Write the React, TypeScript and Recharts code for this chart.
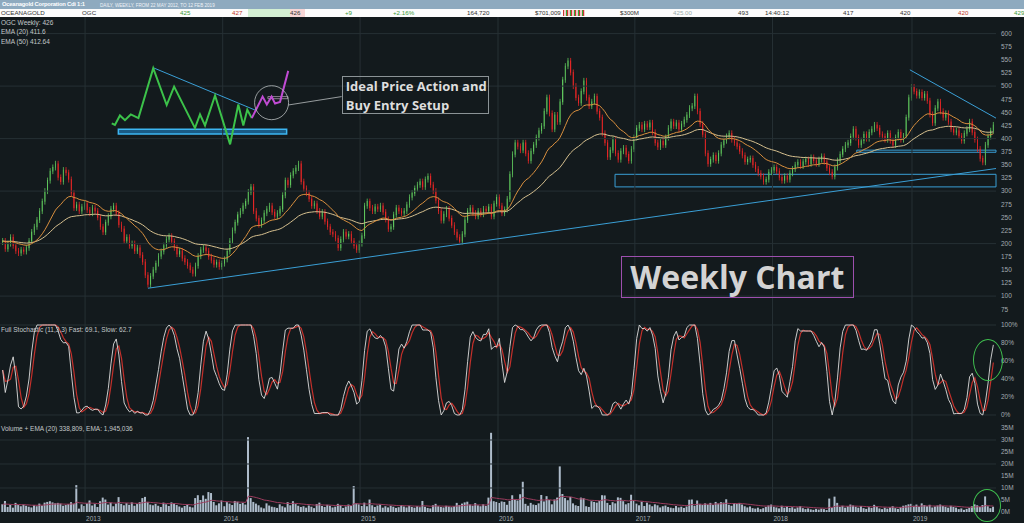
import React from 'react';
import { ComposedChart, Bar, Line, XAxis, YAxis, ReferenceLine, ReferenceArea, ReferenceDot } from 'recharts';

// weekly closes, late May 2012 -> 2019 (cents)
const closes = [
  205, 190, 200, 212, 196, 186, 182, 188, 185, 192, 205, 222, 232, 245, 262, 280, 300, 320, 338,
  345, 352, 326, 318, 340, 335, 322, 296, 268, 274, 262, 270, 276, 264, 258, 268, 262, 250, 232,
  222, 240, 252, 266, 272, 258, 236, 228, 205, 212, 196, 200, 186, 192, 178, 165, 140, 122, 138,
  150, 162, 176, 185, 196, 208, 214, 204, 192, 180, 186, 172, 165, 158, 150, 143, 158, 176, 188,
  192, 186, 175, 168, 160, 164, 156, 162, 170, 185, 205, 225, 240, 255, 262, 272, 280, 298, 308,
  262, 248, 236, 244, 258, 266, 272, 260, 252, 258, 266, 292, 320, 312, 330, 338, 344, 352, 318,
  305, 296, 285, 272, 276, 262, 252, 260, 242, 232, 222, 218, 210, 192, 208, 222, 214, 218, 205,
  196, 188, 200, 215, 272, 280, 268, 262, 270, 266, 272, 260, 246, 228, 232, 255, 268, 262, 258,
  262, 274, 288, 296, 305, 312, 318, 308, 322, 328, 312, 300, 282, 262, 244, 256, 266, 248, 235,
  222, 212, 204, 218, 245, 262, 268, 258, 252, 262, 256, 266, 262, 270, 252, 276, 288, 272, 258,
  265, 285, 332, 370, 392, 385, 378, 392, 372, 358, 376, 388, 402, 415, 424, 452, 478, 448, 418,
  445, 432, 470, 512, 538, 548, 526, 500, 478, 468, 490, 510, 478, 462, 470, 480, 452, 440, 410,
  392, 365, 378, 398, 372, 360, 376, 382, 370, 358, 380, 402, 420, 426, 418, 428, 422, 430, 412,
  392, 384, 395, 388, 402, 420, 432, 424, 430, 418, 428, 436, 445, 458, 462, 480, 452, 428, 408,
  372, 352, 360, 368, 358, 372, 388, 396, 404, 410, 398, 392, 385, 376, 368, 356, 360, 362, 350,
  342, 334, 328, 318, 322, 336, 340, 345, 338, 326, 320, 328, 322, 334, 342, 350, 355, 348, 356,
  360, 352, 364, 358, 352, 360, 366, 356, 344, 336, 328, 345, 358, 370, 380, 388, 392, 404, 418,
  402, 388, 396, 408, 400, 412, 418, 426, 420, 408, 404, 398, 410, 396, 388, 402, 412, 398, 405,
  440, 478, 498, 490, 482, 488, 478, 485, 472, 446, 430, 458, 470, 452, 440, 448, 432, 418, 412,
  415, 405, 396, 410, 418, 432, 412, 398, 380, 362, 355, 388, 404, 415, 426,
];

// weekly volume (millions)
const volumes = [
  3.2, 4.6, 2.1, 3.0, 1.8, 3.8, 2.9, 2.4, 3.1, 2.6, 2.2, 1.9, 2.8, 2.4, 3.5, 2.7, 3.9, 4.2, 4.5,
  4.0, 3.6, 3.8, 3.5, 2.6, 2.9, 3.3, 4.1, 3.4, 11.2, 1.4, 3.2, 2.5, 3.6, 4.8, 2.7, 3.3, 2.1, 4.5,
  6.0, 5.2, 3.1, 3.9, 2.4, 3.5, 6.2, 3.4, 2.8, 3.7, 3.0, 4.0, 2.6, 3.3, 4.1, 5.8, 6.3, 4.2, 3.1,
  2.8, 3.4, 2.6, 2.1, 3.9, 3.2, 2.5, 4.0, 3.6, 2.9, 2.3, 1.8, 2.5, 3.1, 2.2, 1.9, 5.8, 7.0, 5.0,
  6.9, 5.5, 8.3, 7.9, 4.2, 2.8, 3.6, 4.8, 2.4, 4.1, 3.5, 2.9, 4.6, 4.3, 3.4, 3.8, 3.1, 31.2, 5.8,
  4.2, 3.5, 2.8, 1.9, 1.5, 3.6, 2.7, 2.2, 2.0, 1.7, 3.2, 2.4, 1.9, 4.1, 2.8, 4.5, 3.3, 2.6, 2.1,
  2.4, 1.8, 2.7, 2.2, 1.6, 3.3, 3.9, 2.5, 2.1, 3.0, 2.6, 1.9, 2.2, 3.4, 2.8, 1.7, 2.3, 3.1, 2.5,
  10.8, 3.6, 3.2, 2.5, 3.9, 2.4, 5.2, 2.8, 2.1, 2.7, 3.1, 1.8, 2.4, 1.9, 2.6, 2.2, 1.7, 2.0, 2.9,
  2.3, 1.9, 2.6, 2.1, 1.8, 2.4, 2.0, 4.6, 2.2, 1.7, 1.5, 2.8, 3.4, 2.4, 2.1, 1.9, 2.6, 2.3, 2.0,
  2.4, 3.8, 2.9, 3.5, 4.0, 4.3, 3.1, 2.6, 3.7, 2.8, 2.4, 3.2, 2.5, 6.0, 33.0, 4.5, 4.2, 3.8, 4.4,
  4.2, 3.0, 4.6, 7.0, 5.2, 4.8, 7.4, 12.6, 3.4, 2.6, 3.8, 3.1, 2.9, 3.6, 7.1, 4.4, 6.6, 5.0, 3.2,
  5.2, 6.0, 19.0, 7.5, 5.8, 4.9, 6.3, 3.6, 2.8, 2.5, 6.0, 5.8, 2.4, 2.1, 4.5, 4.2, 3.9, 4.6, 7.0,
  6.9, 3.8, 2.9, 4.1, 3.6, 6.1, 5.9, 4.5, 3.2, 3.7, 7.2, 4.8, 3.5, 2.8, 4.3, 2.5, 3.9, 3.1, 2.4,
  3.2, 2.8, 1.9, 2.4, 2.7, 2.1, 1.8, 1.6, 2.5, 1.9, 2.2, 1.7, 2.3, 5.1, 5.2, 2.6, 4.8, 3.4, 2.9,
  3.6, 3.1, 3.8, 2.9, 4.2, 3.5, 4.1, 3.9, 5.3, 3.0, 2.6, 3.7, 3.4, 3.8, 3.1, 2.4, 1.9, 2.3, 1.6,
  1.4, 1.8, 1.2, 1.6, 2.1, 2.7, 3.1, 2.2, 1.9, 1.5, 2.6, 1.8, 2.3, 1.7, 2.0, 1.4, 1.9, 2.4, 1.6,
  1.2, 1.5, 1.1, 0.9, 1.3, 1.0, 1.4, 1.2, 0.8, 5.6, 1.9, 6.4, 3.8, 2.1, 2.6, 1.8, 2.4, 3.1, 2.7,
  2.2, 1.8, 2.5, 1.6, 1.3, 2.0, 1.7, 3.0, 2.2, 1.5, 1.2, 1.8, 1.4, 1.9, 2.4, 1.6, 1.3, 2.1, 2.6,
  2.8, 3.2, 3.4, 2.6, 3.1, 2.2, 3.6, 2.9, 2.4, 3.0, 1.9, 2.3, 2.7, 3.1, 2.5, 2.2, 1.8, 2.6, 2.1,
  1.8, 1.2, 1.5, 0.9, 1.3, 1.7, 2.4, 3.2, 2.8, 2.1, 2.9, 6.5, 2.4, 1.6, 2.2,
];

// where each new year starts (in weeks from the first bar)
const yearIdx = [31.2, 83.3, 135.3, 187.5, 239.3, 291.4, 344.2];
const yearLabels = ['2013', '2014', '2015', '2016', '2017', '2018', '2019'];

const priceTicks = [600, 575, 550, 525, 500, 475, 450, 425, 400, 375, 350, 325, 300, 275, 250, 225, 200, 175, 150, 125, 100, 75];
const priceGrid = [100, 200, 300, 400, 500, 600];
const stochTicks = [0, 20, 40, 60, 80, 100];
const stochGrid = [0, 100];
const volTicks = [0, 5, 10, 15, 20, 25, 30, 35];
const volGrid = [10, 20, 30];

// drawn-in annotations (week index, price)
const trendUp = [{ x: 55, y: 115 }, { x: 376, y: 343 }];
const trendDown = [{ x: 343.4, y: 531 }, { x: 376, y: 439 }];
const sketchTrend = [{ x: 57, y: 535 }, { x: 95.5, y: 454.5 }];
const sketchConnector = [{ x: 108.1, y: 464 }, { x: 128.3, y: 480 }];
const sketchPath = [
  { i: 41.3, p: 429 }, { i: 42.5, p: 426 }, { i: 44.4, p: 444 }, { i: 46.3, p: 435 }, { i: 48.5, p: 446 },
  { i: 51.4, p: 439 }, { i: 57.0, p: 534 }, { i: 62.1, p: 464 }, { i: 64.9, p: 499 }, { i: 72.8, p: 420 },
  { i: 74.7, p: 446 }, { i: 76.6, p: 425 }, { i: 80.4, p: 482 }, { i: 86.1, p: 389 }, { i: 89.2, p: 465 },
  { i: 91.1, p: 425 }, { i: 92.6, p: 455 }, { i: 94.3, p: 439 },
];
const sketchBreakout = [
  { i: 94.3, p: 439 }, { i: 98.4, p: 480 }, { i: 100.0, p: 465 }, { i: 101.8, p: 480 },
  { i: 103.1, p: 467 }, { i: 105.0, p: 470 }, { i: 108.1, p: 529 },
];

const N = closes.length;
const BG = '#131a1d';
const GRID = '#263034';
const TXT = '#a3acb1';
const LINE_BLUE = '#3a9fd6';
const FONT = 'Liberation Sans, Arial, sans-serif';

const ema = (vals: number[], n: number) => {
  const k = 2 / (n + 1);
  let e = vals[0];
  return vals.map((v) => (e = v * k + e * (1 - k)));
};
const sma = (vals: number[], n: number) =>
  vals.map((_, i) => {
    const w = vals.slice(Math.max(0, i - n + 1), i + 1);
    return w.reduce((a, b) => a + b, 0) / w.length;
  });

// full stochastic (11,3,3) on closes
const rawK = closes.map((c, i) => {
  const w = closes.slice(Math.max(0, i - 10), i + 1);
  const lo = Math.min(...w);
  const hi = Math.max(...w);
  return hi === lo ? 50 : ((c - lo) / (hi - lo)) * 100;
});
const fast = sma(rawK, 3);
const slow = sma(fast, 3);
const ema20 = ema(closes, 20);
const ema50 = ema(closes, 50);
const volEma = ema(volumes, 20);

const rows = closes.map((c, i) => {
  const o = i === 0 ? c : closes[i - 1];
  return {
    i,
    o,
    c,
    body: [Math.min(o, c), Math.max(o, c)],
    ema20: ema20[i],
    ema50: ema50[i],
    fast: fast[i],
    slow: slow[i],
    vol: volumes[i],
    volEma: volEma[i],
  };
});

const Candle = (props: any) => {
  const { x, width, payload } = props;
  let { y, height } = props;
  if (height < 0) {
    y += height;
    height = -height;
  }
  const up = payload.c >= payload.o;
  const color = up ? '#5ec45c' : '#e32626';
  const h = Math.max(1, height);
  const cx = x + width / 2;
  return (
    <g>
      <line x1={cx} x2={cx} y1={y - 3} y2={y + h + 3} stroke={color} strokeWidth={0.8} />
      <rect x={x} y={y} width={width} height={h} fill={up ? '#1d3a22' : color} stroke={color} strokeWidth={0.7} />
    </g>
  );
};

const tickStyle = { fill: TXT, fontSize: 6.5, fontFamily: FONT };

const yearLines = yearIdx.map((v) => <ReferenceLine key={'yl' + v} x={v} stroke={GRID} strokeWidth={1} />);

const label = (text: string, top: number, left = 1) => (
  <div
    style={{
      position: 'absolute', left, top, fontSize: 6.5, fontFamily: FONT, color: '#c3c8ca',
      lineHeight: '8px', whiteSpace: 'nowrap',
    }}
  >
    {text}
  </div>
);

const quoteCell = (text: string, left: number, color = '#333') => (
  <span style={{ position: 'absolute', left, top: 0, color }}>{text}</span>
);

export default function App() {
  return (
    <div style={{ position: 'absolute', left: 0, top: 0, width: 1024, height: 523, background: BG, overflow: 'hidden' }}>
      {/* title bar */}
      <div style={{ position: 'absolute', left: 0, top: 0, width: 1024, height: 9.3, background: '#8eaabf' }}>
        <span
          style={{
            position: 'absolute', left: 2, top: 0, fontSize: 5.8, fontWeight: 700, color: '#fff', fontFamily: FONT,
            lineHeight: '9px', letterSpacing: -0.2, whiteSpace: 'nowrap',
          }}
        >
          Oceanagold Corporation Cdi 1:1
        </span>
        <span style={{ position: 'absolute', left: 100, top: 0.5, fontSize: 4.6, color: '#eef3f7', fontFamily: FONT, lineHeight: '9px', whiteSpace: 'nowrap' }}>
          DAILY, WEEKLY, FROM 22 MAY 2012, TO 12 FEB 2019
        </span>
      </div>
      {/* quote row */}
      <div
        style={{
          position: 'absolute', left: 0, top: 9.3, width: 1024, height: 8, background: '#fcfcfc',
          fontSize: 6.2, fontFamily: FONT, lineHeight: '8px', whiteSpace: 'nowrap',
        }}
      >
        <div style={{ position: 'absolute', left: 248, top: 0, width: 42, height: 8, background: '#d3efd3' }} />
        <div style={{ position: 'absolute', left: 290, top: 0, width: 15, height: 8, background: '#f7d6d6' }} />
        <div style={{ position: 'absolute', left: 563, top: 1, width: 22, height: 6, background: 'repeating-linear-gradient(90deg,#c33 0 1px,#f4c9c9 1px 3px,#3a3 3px 4px)' }} />
        {quoteCell('OCEANAGOLD', 1)}
        {quoteCell('OGC', 82)}
        {quoteCell('425', 180, '#3a9a3a')}
        {quoteCell('427', 232, '#c0392b')}
        {quoteCell('426', 290)}
        {quoteCell('+9', 345, '#3a9a3a')}
        {quoteCell('+2.16%', 393, '#3a9a3a')}
        {quoteCell('164,720', 467)}
        {quoteCell('$701,009', 535)}
        {quoteCell('$300M', 620)}
        {quoteCell('425.00', 673, '#9aa')}
        {quoteCell('493', 738)}
        {quoteCell('14:40:12', 765)}
        {quoteCell('417', 843)}
        {quoteCell('420', 900)}
        {quoteCell('420', 958, '#c0392b')}
        {quoteCell('429', 1014, '#3a9a3a')}
      </div>

      {/* price pane */}
      <div style={{ position: 'absolute', left: 0, top: 17 }}>
        <ComposedChart width={1024} height={303} data={rows} margin={{ top: 0, right: 0, bottom: 0, left: 0 }}>
          <XAxis type="number" dataKey="i" domain={[-1, N]} hide allowDataOverflow />
          <YAxis
            orientation="right" width={28} domain={[54.48, 631.62]} ticks={priceTicks} interval={0}
            axisLine={false} tickLine={false} tickSize={0} tickMargin={5} tick={tickStyle} allowDataOverflow
          />
          {priceGrid.map((v) => <ReferenceLine key={'pg' + v} y={v} stroke={GRID} strokeWidth={1} />)}
          {yearLines}
          <Bar dataKey="body" barSize={2} shape={<Candle />} isAnimationActive={false} />
          <Line dataKey="ema50" stroke="#d6c08f" strokeWidth={1} dot={false} isAnimationActive={false} />
          <Line dataKey="ema20" stroke="#d88f3e" strokeWidth={1} dot={false} isAnimationActive={false} />
          <ReferenceLine segment={trendUp} stroke={LINE_BLUE} strokeWidth={1} />
          <ReferenceLine segment={trendDown} stroke={LINE_BLUE} strokeWidth={1} />
          <ReferenceArea x1={231.8} x2={376} y1={308} y2={332} fill="none" stroke={LINE_BLUE} strokeWidth={1} />
          <ReferenceArea x1={323.3} x2={376} y1={374} y2={378} fill="none" stroke={LINE_BLUE} strokeWidth={1} />
          {/* idealised setup sketch */}
          <ReferenceArea x1={43.8} x2={107.5} y1={409} y2={418} fill="#1a5b85" fillOpacity={1} stroke="#3db6f2" strokeWidth={1.5} />
          <ReferenceLine segment={sketchTrend} stroke={LINE_BLUE} strokeWidth={1} />
          <Line data={sketchPath} dataKey="p" stroke="#3cc24a" strokeWidth={2} dot={false} isAnimationActive={false} />
          <Line data={sketchBreakout} dataKey="p" stroke="#c04bd3" strokeWidth={2} dot={false} isAnimationActive={false} />
          <ReferenceArea x1={100.4} x2={108} y1={476} y2={480} fill="none" stroke="#a89aa8" strokeWidth={0.8} />
          <ReferenceDot x={101.8} y={468.4} r={17} fill="none" stroke="#b8bcbe" strokeWidth={0.8} />
          <ReferenceLine segment={sketchConnector} stroke="#b8bcbe" strokeWidth={0.8} />
        </ComposedChart>
      </div>

      {/* stochastic pane */}
      <div style={{ position: 'absolute', left: 0, top: 320 }}>
        <ComposedChart width={1024} height={100} data={rows} margin={{ top: 0, right: 0, bottom: 0, left: 0 }}>
          <XAxis type="number" dataKey="i" domain={[-1, N]} hide allowDataOverflow />
          <YAxis
            orientation="right" width={28} domain={[-5.56, 105.56]} ticks={stochTicks} interval={0}
            axisLine={false} tickLine={false} tickSize={0} tickMargin={5} tick={tickStyle}
            tickFormatter={(v: number) => `${v}%`} allowDataOverflow
          />
          {stochGrid.map((v) => <ReferenceLine key={'sg' + v} y={v} stroke={GRID} strokeWidth={1} />)}
          {yearLines}
          <Line dataKey="slow" stroke="#c3302b" strokeWidth={1.2} dot={false} isAnimationActive={false} />
          <Line dataKey="fast" stroke="#dcdcdc" strokeWidth={0.9} dot={false} isAnimationActive={false} />
        </ComposedChart>
      </div>

      {/* volume pane */}
      <div style={{ position: 'absolute', left: 0, top: 420 }}>
        <ComposedChart width={1024} height={103} data={rows} margin={{ top: 0, right: 0, bottom: 0, left: 0 }}>
          <XAxis
            type="number" dataKey="i" domain={[-1, N]} ticks={yearIdx} interval={0} height={11}
            axisLine={false} tickLine={false} tickSize={0} tickMargin={0} allowDataOverflow
            tick={(p: any) => (
              <text x={p.x + 1} y={p.y + 9} fill={TXT} fontSize={6.5} fontFamily={FONT} textAnchor="start">
                {yearLabels[yearIdx.indexOf(p.payload.value)]}
              </text>
            )}
          />
          <YAxis
            orientation="right" width={28} domain={[0, 38.33]} ticks={volTicks} interval={0}
            axisLine={false} tickLine={false} tickSize={0} tickMargin={5} tick={tickStyle}
            tickFormatter={(v: number) => `${v}M`} allowDataOverflow
          />
          {volGrid.map((v) => <ReferenceLine key={'vg' + v} y={v} stroke={GRID} strokeWidth={1} />)}
          {yearLines}
          <Bar dataKey="vol" barSize={2} fill="#aebccb" isAnimationActive={false} />
          <Line dataKey="volEma" stroke="#9d3c5e" strokeWidth={1} dot={false} isAnimationActive={false} />
        </ComposedChart>
      </div>

      {/* green highlight circles */}
      <div style={{ position: 'absolute', left: 973, top: 339, width: 28, height: 40, border: '1.5px solid #3fbf4f', borderRadius: '50%' }} />
      <div style={{ position: 'absolute', left: 973, top: 489, width: 26, height: 31, border: '1.5px solid #3fbf4f', borderRadius: '50%' }} />

      {/* pane legends */}
      {label('OGC Weekly: 426', 18.7)}
      {label('EMA (20) 411.6', 28.3)}
      {label('EMA (50) 412.64', 37.7)}
      {label('Full Stochastic (11,3,3) Fast: 69.1, Slow: 62.7', 326)}
      {label('Volume + EMA (20) 338,809, EMA: 1,945,036', 424.5)}

      {/* callout */}
      <div
        style={{
          position: 'absolute', left: 341.7, top: 75.7, width: 147.6, height: 38.6, boxSizing: 'border-box',
          border: '1px solid #8b9396', fontFamily: 'Open Sans, sans-serif', fontWeight: 700, fontSize: 13,
          color: '#dedede', lineHeight: '19px', paddingLeft: 3, paddingTop: 0, whiteSpace: 'nowrap',
        }}
      >
        <div>Ideal Price Action and</div>
        <div>Buy Entry Setup</div>
      </div>

      {/* title box */}
      <div
        style={{
          position: 'absolute', left: 620.7, top: 255.7, width: 233.3, height: 42.6, boxSizing: 'border-box',
          border: '1.5px solid #9d4fae', fontFamily: 'Open Sans, sans-serif', fontWeight: 700, fontSize: 32,
          color: '#d3d3d3', lineHeight: '39px', textAlign: 'center', whiteSpace: 'nowrap',
        }}
      >
        Weekly Chart
      </div>
    </div>
  );
}
